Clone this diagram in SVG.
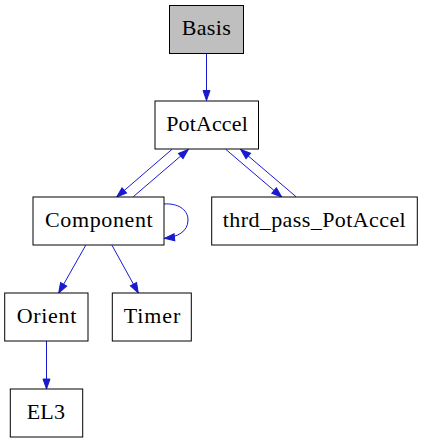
<svg xmlns="http://www.w3.org/2000/svg" width="423" height="443" viewBox="0 0 423 443">
<style>
.n rect{fill:#fff;stroke:#000;stroke-width:1}
.n text{font-family:'Liberation Serif','Times New Roman','DejaVu Serif',serif;font-size:22px;text-anchor:middle;fill:#000}
.e path{fill:none;stroke:#1a1acd;stroke-width:1;marker-end:url(#a)}
</style>
<defs>
<marker id="a" markerUnits="userSpaceOnUse" markerWidth="10" markerHeight="7" refX="10" refY="3.5" orient="auto" overflow="visible">
<path d="M0,0 L10,3.5 L0,7 z" fill="#1a1acd" stroke="#1a1acd" stroke-width="1"/>
</marker>
</defs>
<rect width="423" height="443" fill="#fff"/>
<g id="edges" class="e">
<path d="M206.5,53.5 L206.5,100.5"/>
<path d="M172,149.3 L116.7,197"/>
<path d="M133.3,196.7 L188.3,149.5"/>
<path d="M225.7,149.3 L281.7,197"/>
<path d="M296,196.7 L240.7,149.5"/>
<path d="M164,204 C177,203 188,209 188,220 C188,232 177,237 164.5,238.3"/>
<path d="M85.7,245.3 L58.7,293"/>
<path d="M112,245.3 L138.3,293"/>
<path d="M46.5,341 L46.5,389"/>
</g>
<g id="Basis" class="n"><rect x="169.5" y="5.5" width="74" height="48" style="fill:#bfbfbf"/><text x="206.2" y="34.5" textLength="49" lengthAdjust="spacing">Basis</text></g>
<g id="PotAccel" class="n"><rect x="155" y="101" width="103.5" height="48"/><text x="207" y="130.5" textLength="81.5" lengthAdjust="spacing">PotAccel</text></g>
<g id="Component" class="n"><rect x="33" y="197" width="131" height="48"/><text x="98.8" y="226.5" textLength="107.7" lengthAdjust="spacing">Component</text></g>
<g id="thrd_pass_PotAccel" class="n"><rect x="211.7" y="197" width="205.6" height="48"/><text x="314.2" y="226.5" textLength="183" lengthAdjust="spacing">thrd_pass_PotAccel</text></g>
<g id="Orient" class="n"><rect x="4.7" y="293" width="83.3" height="48"/><text x="46.5" y="322.5" textLength="59.6" lengthAdjust="spacing">Orient</text></g>
<g id="Timer" class="n"><rect x="112.3" y="293" width="79" height="48"/><text x="152" y="322.5" textLength="56.5" lengthAdjust="spacing">Timer</text></g>
<g id="EL3" class="n"><rect x="10.3" y="389" width="72.4" height="48"/><text x="45.8" y="418.5" textLength="38.3" lengthAdjust="spacing">EL3</text></g>
</svg>
